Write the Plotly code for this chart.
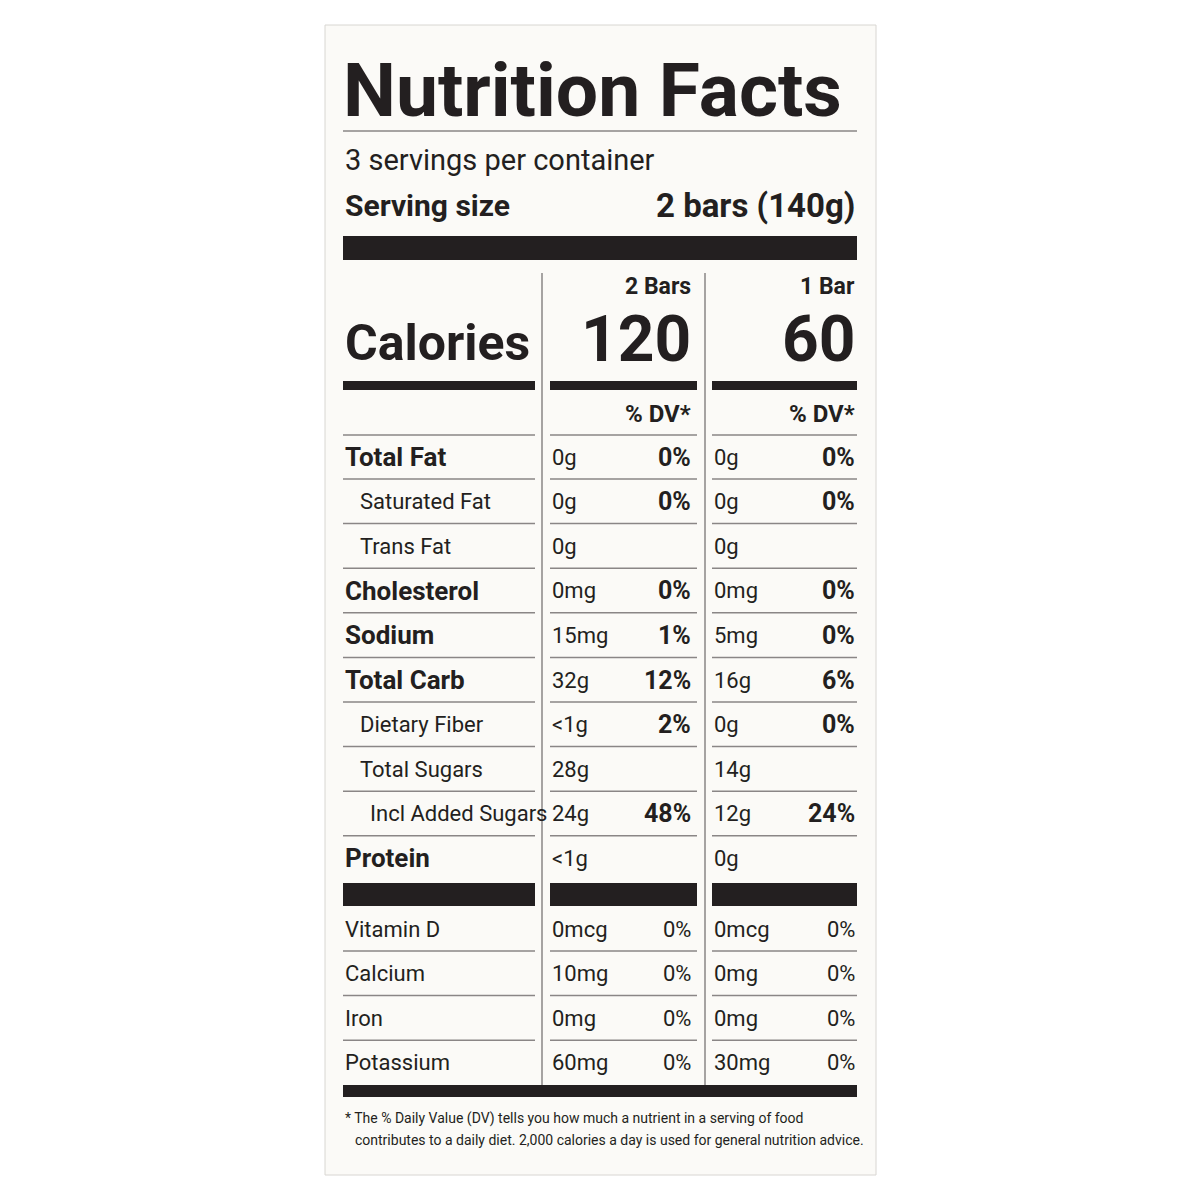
import plotly.graph_objects as go

labels = ["Total Fat","Saturated Fat","Trans Fat","Cholesterol","Sodium","Total Carb","Dietary Fiber","Total Sugars","Incl Added Sugars","Protein"]
bold = [1,0,0,1,1,1,0,0,0,1]
indent = [0,1,1,0,0,0,1,1,2,0]
amt2 = ["0g","0g","0g","0mg","15mg","32g","<1g","28g","24g","<1g"]
dv2 = ["0%","0%","","0%","1%","12%","2%","","48%",""]
amt1 = ["0g","0g","0g","0mg","5mg","16g","0g","14g","12g","0g"]
dv1 = ["0%","0%","","0%","0%","6%","0%","","24%",""]
vit_labels = ["Vitamin D","Calcium","Iron","Potassium"]
vit_amt2 = ["0mcg","10mg","0mg","60mg"]
vit_dv2 = ["0%","0%","0%","0%"]
vit_amt1 = ["0mcg","0mg","0mg","30mg"]
vit_dv1 = ["0%","0%","0%","0%"]

INK = "#231f20"
FONT = "Roboto, Arial"
fig = go.Figure()
shapes, ann = [], []

def txt(x, y, s, size, b=False, anchor="left", color=INK):
    ann.append(dict(x=x, y=y, xref="x", yref="y", text=f"<b>{s}</b>" if b else s,
                    showarrow=False, xanchor=anchor, yanchor="middle",
                    font=dict(family=FONT, size=size, color=color)))

def rect(x0, y0, x1, y1, color=INK):
    shapes.append(dict(type="rect", x0=x0, y0=y0, x1=x1, y1=y1, xref="x", yref="y",
                       fillcolor=color, line=dict(width=0), layer="above"))

def hline(x0, x1, y, color="#8a8686", w=1.5):
    shapes.append(dict(type="line", x0=x0, x1=x1, y0=y, y1=y, xref="x", yref="y",
                       line=dict(color=color, width=w), layer="above"))

shapes.append(dict(type="rect", x0=325, y0=25, x1=876, y1=1175, xref="x", yref="y",
                   fillcolor="#fbfaf7", line=dict(color="#d8d6d2", width=1), layer="below"))

txt(341, 90, "Nutrition Facts", 75, True)
hline(343, 857, 131)
txt(343, 160, "3 servings per container", 29)
txt(343, 205, "Serving size", 30, True)
txt(857, 205, "2 bars (140g)", 33, True, "right")
rect(343, 236, 857, 260)

for vx in (542, 705):
    shapes.append(dict(type="line", x0=vx, x1=vx, y0=273, y1=1085, xref="x", yref="y",
                       line=dict(color="#8a8686", width=1.5), layer="above"))

segs = [(343, 535), (550, 697), (712, 857)]
txt(693, 286, "2 Bars", 23, True, "right")
txt(857, 286, "1 Bar", 23, True, "right")
txt(343, 343, "Calories", 50, True)
txt(693, 339, "120", 64, True, "right")
txt(857, 339, "60", 64, True, "right")
for a, b in segs:
    rect(a, 381, b, 390)
txt(693, 414, "% DV*", 24, True, "right")
txt(857, 414, "% DV*", 24, True, "right")
for a, b in segs:
    hline(a, b, 435)

step = 44.6
for i, lab in enumerate(labels):
    y = 457 + i * step
    txt(343 + [0, 15, 25][indent[i]], y, lab, 26 if bold[i] else 22, bool(bold[i]))
    txt(550, y, amt2[i], 22)
    txt(693, y, dv2[i], 25, True, "right")
    txt(712, y, amt1[i], 22)
    txt(857, y, dv1[i], 25, True, "right")
    if i < len(labels) - 1:
        for a, b in segs:
            hline(a, b, y + 22)
for a, b in segs:
    rect(a, 883, b, 906)

for i, lab in enumerate(vit_labels):
    y = 929 + i * step
    txt(343, y, lab, 22)
    txt(550, y, vit_amt2[i], 22)
    txt(693, y, vit_dv2[i], 22, False, "right")
    txt(712, y, vit_amt1[i], 22)
    txt(857, y, vit_dv1[i], 22, False, "right")
    if i < len(vit_labels) - 1:
        for a, b in segs:
            hline(a, b, y + 22)
rect(343, 1085, 857, 1097)

txt(343, 1118, "* The % Daily Value (DV) tells you how much a nutrient in a serving of food", 14)
txt(353, 1140, "contributes to a daily diet. 2,000 calories a day is used for general nutrition advice.", 14)

fig.update_layout(width=1200, height=1200, margin=dict(l=0, r=0, t=0, b=0),
                  paper_bgcolor="white", plot_bgcolor="white",
                  xaxis=dict(range=[8, 1208], visible=False, fixedrange=True),
                  yaxis=dict(range=[1208, 8], visible=False, fixedrange=True),
                  shapes=shapes, annotations=ann, showlegend=False)
fig.write_html("out.html")
